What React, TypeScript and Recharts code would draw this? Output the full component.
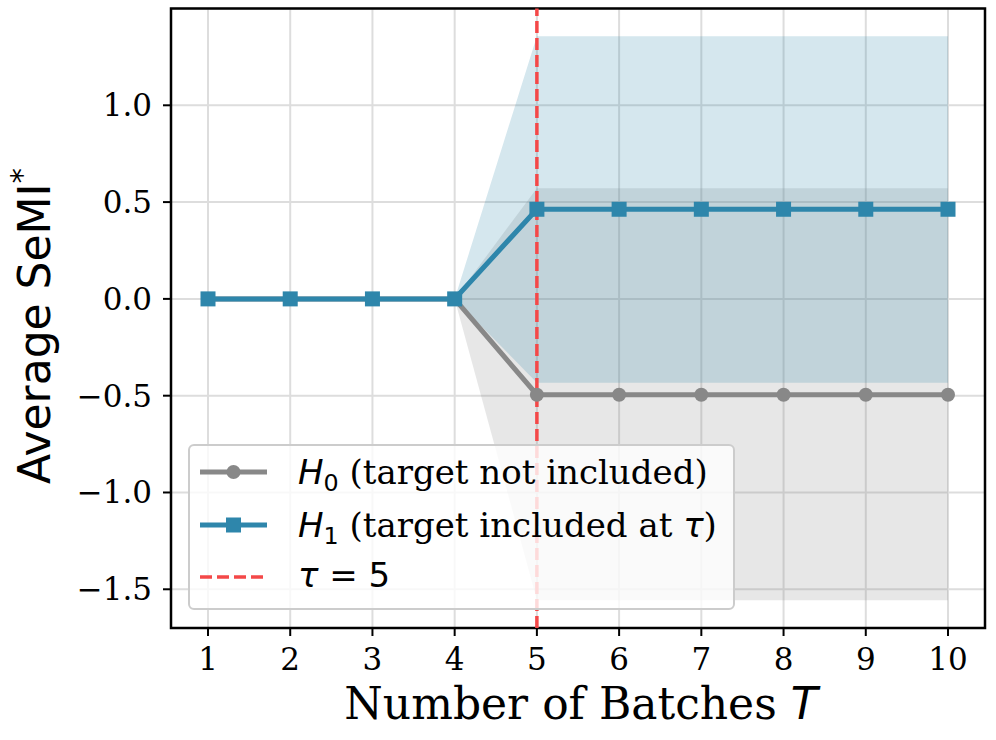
import React from "react";
import {
  ComposedChart,
  Area,
  Line,
  XAxis,
  YAxis,
  CartesianGrid,
  ReferenceLine,
  ReferenceArea,
  Label,
} from "recharts";

const batches = [1, 2, 3, 4, 5, 6, 7, 8, 9, 10];
const h0Mean = [0, 0, 0, 0, -0.495, -0.495, -0.495, -0.495, -0.495, -0.495];
const h0Lower = [0, 0, 0, 0, -1.557, -1.557, -1.557, -1.557, -1.557, -1.557];
const h0Upper = [0, 0, 0, 0, 0.572, 0.572, 0.572, 0.572, 0.572, 0.572];
const h1Mean = [0, 0, 0, 0, 0.463, 0.463, 0.463, 0.463, 0.463, 0.463];
const h1Lower = [0, 0, 0, 0, -0.433, -0.433, -0.433, -0.433, -0.433, -0.433];
const h1Upper = [0, 0, 0, 0, 1.357, 1.357, 1.357, 1.357, 1.357, 1.357];
const yTicks = [-1.5, -1.0, -0.5, 0.0, 0.5, 1.0];
const tau = 5;

const data = batches.map((b, i) => ({
  batch: b,
  h0: h0Mean[i],
  h1: h1Mean[i],
  h0Band: [h0Lower[i], h0Upper[i]],
  h1Band: [h1Lower[i], h1Upper[i]],
}));

const BLUE = "#2e86ab";
const GRAY = "#888888";
const RED = "#f44848";
const SERIF = "'DejaVu Serif', serif";
const SANS = "'DejaVu Sans', sans-serif";

const fmt = (v: number) => (v < 0 ? "\u2212" : "") + Math.abs(v).toFixed(1);

const XTick = ({ x, y, payload }: any) => (
  <text x={x} y={y + 34} textAnchor="middle" fontFamily={SERIF} fontSize={31} fill="#000">
    {payload.value}
  </text>
);

const YTick = ({ x, y, payload }: any) => (
  <text x={x - 11} y={y + 11} textAnchor="end" fontFamily={SERIF} fontSize={31} fill="#000">
    {fmt(payload.value)}
  </text>
);

const Square = (props: any) => {
  const { cx, cy, key } = props;
  if (cx == null || cy == null) return <g key={key} />;
  return <rect key={key} x={cx - 7.5} y={cy - 7.5} width={15} height={15} fill={BLUE} />;
};

const Circle = (props: any) => {
  const { cx, cy, key } = props;
  if (cx == null || cy == null) return <g key={key} />;
  return <circle key={key} cx={cx} cy={cy} r={7} fill={GRAY} />;
};

// legend rows: handle centre and text top inside the box (box top = 444)
const LegendBox = () => {
  const row = (handleY: number, textTop: number, handle: React.ReactNode, text: React.ReactNode) => (
    <>
      <svg width={80} height={30} style={{ position: "absolute", left: 8, top: handleY - 15 }}>
        {handle}
      </svg>
      <div
        style={{
          position: "absolute",
          left: 108,
          top: textTop,
          fontFamily: SERIF,
          fontSize: 34,
          lineHeight: "40px",
          whiteSpace: "nowrap",
          color: "#000",
        }}
      >
        {text}
      </div>
    </>
  );
  const math = (s: string) => (
    <span style={{ fontFamily: SANS, fontStyle: "italic" }}>{s}</span>
  );
  const sub = (s: string) => (
    <span style={{ fontFamily: SANS, fontSize: "0.7em", position: "relative", top: "0.28em" }}>{s}</span>
  );
  return (
    <div
      style={{
        position: "absolute",
        left: 188,
        top: 444,
        width: 547,
        height: 166,
        boxSizing: "border-box",
        border: "2px solid #cccccc",
        borderRadius: 6,
        background: "rgba(255,255,255,0.8)",
      }}
    >
      {row(
        26,
        6,
        <>
          <line x1={2} x2={69} y1={15} y2={15} stroke={GRAY} strokeWidth={5} />
          <circle cx={35.5} cy={15} r={7} fill={GRAY} />
        </>,
        <>
          {math("H")}
          {sub("0")} (target not included)
        </>
      )}
      {row(
        79,
        59,
        <>
          <line x1={2} x2={69} y1={15} y2={15} stroke={BLUE} strokeWidth={5} />
          <rect x={28} y={7.5} width={15} height={15} fill={BLUE} />
        </>,
        <>
          {math("H")}
          {sub("1")} (target included at {math("\u03c4")})
        </>
      )}
      {row(
        131,
        109,
        <line x1={2} x2={69} y1={15} y2={15} stroke={RED} strokeWidth={3.5} strokeDasharray="12 5" />,
        <span style={{ fontFamily: SANS }}>
          <i>{"\u03c4"}</i> = 5
        </span>
      )}
    </div>
  );
};

export default function App() {
  return (
    <div style={{ position: "absolute", left: 0, top: 0, width: 996, height: 740, background: "#fff" }}>
      <ComposedChart
        width={996}
        height={740}
        data={data}
        margin={{ top: 8.5, right: 11, bottom: 0, left: 0 }}
      >
        <CartesianGrid stroke="#dddddd" strokeWidth={2} />
        <XAxis
          type="number"
          dataKey="batch"
          domain={[0.55, 10.45]}
          ticks={batches}
          allowDataOverflow
          height={112}
          axisLine={false}
          tickLine={{ stroke: "#000", strokeWidth: 2 }}
          tickSize={8}
          tickMargin={0}
          tick={<XTick />}
        >
          <Label
            content={() => (
              <text x={581} y={719} textAnchor="middle" fontFamily={SERIF} fontSize={44} fill="#000">
                Number of Batches{" "}
                <tspan fontFamily={SANS} fontStyle="italic">
                  T
                </tspan>
              </text>
            )}
          />
        </XAxis>
        <YAxis
          type="number"
          domain={[-1.7, 1.5]}
          ticks={yTicks}
          allowDataOverflow
          width={171}
          axisLine={false}
          tickLine={{ stroke: "#000", strokeWidth: 2 }}
          tickSize={8}
          tickMargin={0}
          tick={<YTick />}
        >
          <Label
            content={() => (
              <text
                x={50}
                y={326}
                transform="rotate(-90, 50, 326)"
                textAnchor="middle"
                fontFamily={SANS}
                fontSize={44}
                fill="#000"
              >
                Average SeMI
                <tspan fontSize={31} dy={-18}>
                  *
                </tspan>
              </text>
            )}
          />
        </YAxis>
        <Area
          dataKey="h0Band"
          type="linear"
          fill={GRAY}
          fillOpacity={0.2}
          stroke="none"
          activeDot={false}
          isAnimationActive={false}
        />
        <Line
          dataKey="h0"
          type="linear"
          stroke={GRAY}
          strokeWidth={5}
          dot={Circle}
          activeDot={false}
          isAnimationActive={false}
        />
        <Area
          dataKey="h1Band"
          type="linear"
          fill={BLUE}
          fillOpacity={0.2}
          stroke="none"
          activeDot={false}
          isAnimationActive={false}
        />
        <Line
          dataKey="h1"
          type="linear"
          stroke={BLUE}
          strokeWidth={5}
          dot={Square}
          activeDot={false}
          isAnimationActive={false}
        />
        <ReferenceLine x={tau} stroke={RED} strokeWidth={3.5} strokeDasharray="12 5" />
        <ReferenceArea
          x1={0.55}
          x2={10.45}
          y1={-1.7}
          y2={1.5}
          fill="none"
          fillOpacity={0}
          stroke="#000"
          strokeWidth={2.5}
          ifOverflow="visible"
        />
      </ComposedChart>
      <LegendBox />
    </div>
  );
}
